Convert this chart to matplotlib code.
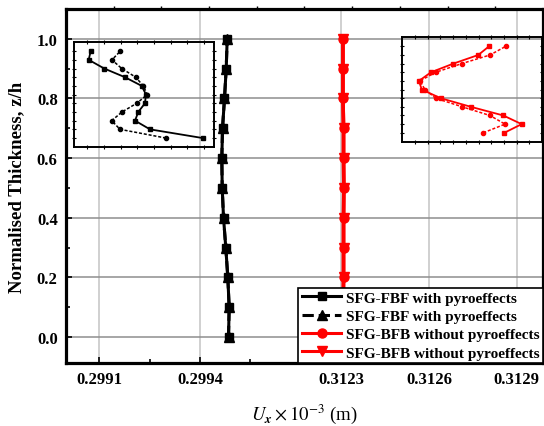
import numpy as np
import matplotlib
matplotlib.use("Agg")
import matplotlib.pyplot as plt
from matplotlib.ticker import FixedLocator, FixedFormatter

plt.rcParams["font.family"] = ["Liberation Serif", "DejaVu Serif"]
plt.rcParams["mathtext.fontset"] = "stix"

# ---- data -------------------------------------------------------------
z = [0.0, 0.1, 0.2, 0.3, 0.4, 0.5, 0.6, 0.7, 0.8, 0.9, 1.0]

ux_fbf_pyro_a = [0.2994856, 0.2994876, 0.2994835, 0.2994775, 0.2994707, 0.2994668,
                 0.2994656, 0.2994677, 0.2994736, 0.2994787, 0.2994817]
ux_fbf_pyro_b = [0.2994856, 0.2994876, 0.2994835, 0.2994775, 0.2994707, 0.2994668,
                 0.2994656, 0.2994677, 0.2994736, 0.2994787, 0.2994817]
ux_bfb_nopyro_a = [0.312306, 0.312307, 0.312308, 0.312308, 0.312308, 0.312309,
                   0.312308, 0.312308, 0.312306, 0.312306, 0.312306]
ux_bfb_nopyro_b = [0.312306, 0.312307, 0.312308, 0.312308, 0.312308, 0.312309,
                   0.312308, 0.312308, 0.312306, 0.312306, 0.312306]

# zoomed profiles (relative units) shown in the two insets
inset_fbf_solid = [91.9, 54.3, 43.6, 45.9, 50.7, 51.4, 48.4, 36.4, 21.6, 10.5, 11.9]
inset_fbf_dash = [65.7, 32.9, 26.9, 34.3, 44.8, 52.4, 49.5, 44.1, 34.1, 27.1, 33.1]
inset_bfb_solid = [73.0, 85.4, 72.3, 49.1, 27.4, 13.8, 11.8, 20.4, 36.4, 54.3, 62.0]
inset_bfb_dash = [57.9, 73.5, 62.7, 42.9, 23.8, 16.1, 12.5, 23.8, 42.4, 62.7, 74.0]

labels = ["SFG-FBF with pyroeffects", "SFG-FBF with pyroeffects",
          "SFG-BFB without pyroeffects", "SFG-BFB without pyroeffects"]

x_major = [0.2991, 0.2994, 0.3123, 0.3126, 0.3129]
x_major_labels = ["0.2991", "0.2994", "0.3123", "0.3126", "0.3129"]
x_minor = [0.29925, 0.29955, 0.31245, 0.31275]
y_major = [0.0, 0.2, 0.4, 0.6, 0.8, 1.0]
y_major_labels = ["0.0", "0.2", "0.4", "0.6", "0.8", "1.0"]
y_minor = [0.1, 0.3, 0.5, 0.7, 0.9]

# ---- broken x scale (two linear pieces joined at the break) ------------
X_LO, X_BRK_LO, X_BRK_HI, X_HI = 0.2990, 0.2997, 0.31216, 0.31299
GAIN_L, GAIN_R = 335.7e3, 293.3e3
P_BRK = (X_BRK_LO - X_LO) * GAIN_L
EPS = 1e-3


def fwd(x):
    x = np.asarray(x, dtype=float)
    left = (x - X_LO) * GAIN_L
    mid = P_BRK + (x - X_BRK_LO) / (X_BRK_HI - X_BRK_LO) * EPS
    right = P_BRK + EPS + (x - X_BRK_HI) * GAIN_R
    return np.where(x <= X_BRK_LO, left, np.where(x >= X_BRK_HI, right, mid))


def inv(p):
    p = np.asarray(p, dtype=float)
    left = X_LO + p / GAIN_L
    mid = X_BRK_LO + (p - P_BRK) / EPS * (X_BRK_HI - X_BRK_LO)
    right = X_BRK_HI + (p - P_BRK - EPS) / GAIN_R
    return np.where(p <= P_BRK, left, np.where(p >= P_BRK + EPS, right, mid))


fig = plt.figure(figsize=(5.44, 4.27), dpi=100)
ax = fig.add_axes([0.1213, 0.1475, 0.8768, 0.829])
ax.set_xscale("function", functions=(fwd, inv))
ax.set_xlim(X_LO, X_HI)
ax.set_ylim(-0.087, 1.10)

ax.xaxis.set_major_locator(FixedLocator(x_major))
ax.xaxis.set_major_formatter(FixedFormatter(x_major_labels))
ax.xaxis.set_minor_locator(FixedLocator(x_minor))
ax.yaxis.set_major_locator(FixedLocator(y_major))
ax.yaxis.set_major_formatter(FixedFormatter(y_major_labels))
ax.yaxis.set_minor_locator(FixedLocator(y_minor))

ax.xaxis.grid(True, which="major", color="#c4c4c4", lw=1.1, zorder=0)
ax.yaxis.grid(True, which="major", color="#8e8e8e", lw=1.1, zorder=0)
ax.set_axisbelow(True)

for s in ax.spines.values():
    s.set_linewidth(2.3)
ax.tick_params(which="both", direction="in", width=1.2, labelsize=12, pad=6)
ax.tick_params(which="major", length=4)
ax.tick_params(which="minor", length=3)
for t in ax.get_xticklabels() + ax.get_yticklabels():
    t.set_fontweight("bold")

# main curves
ax.plot(ux_fbf_pyro_b, z, ls="--", color="black", lw=2.2, marker="^", ms=6.5, zorder=3)
ax.plot(ux_fbf_pyro_a, z, ls="-", color="black", lw=2.2, marker="s", ms=6, zorder=4)
ax.plot(ux_bfb_nopyro_a, z, ls="-", color="#ff0000", lw=2.6, marker="o", ms=6.5, zorder=3)
ax.plot(ux_bfb_nopyro_b, z, ls="-", color="#ff0000", lw=2.6, marker="v", ms=7, zorder=4)

# small ticks along the top edge
ax_top = ax.twiny()
ax_top.set_xlim(0, 1)
ax_top.set_xticks(np.arange(0.1, 0.95, 0.1))
ax_top.tick_params(axis="x", direction="out", length=2.5, width=1.0, labeltop=False)
for s in ax_top.spines.values():
    s.set_visible(False)
ax_top.patch.set_visible(False)

# axis labels
ax.set_xlabel(r"$U_{\mathbfit{x}}\times 10^{-3}$ (m)", fontsize=13.5, labelpad=10)
ax.set_ylabel("Normalised Thickness, z/h", fontsize=13.5, fontweight="bold", labelpad=8)

# legend
handles = [
    plt.Line2D([], [], color="black", lw=2.2, marker="s", ms=6),
    plt.Line2D([], [], color="black", lw=2.2, ls="--", marker="^", ms=7),
    plt.Line2D([], [], color="#ff0000", lw=2.2, marker="o", ms=6.5),
    plt.Line2D([], [], color="#ff0000", lw=2.2, marker="v", ms=7),
]
leg = ax.legend(handles, labels, loc="lower right", bbox_to_anchor=(1.0, 0.0),
                borderaxespad=0.0, fancybox=False, framealpha=1.0, edgecolor="black",
                handlelength=2.6, handletextpad=0.3, labelspacing=0.3, borderpad=0.22,
                prop={"family": "Liberation Serif", "weight": "bold", "size": 11})
leg.get_frame().set_linewidth(1.2)
leg.set_zorder(10)


def style_inset(iax, xt):
    iax.set_facecolor("none")
    iax.set_ylim(-0.104, 1.104)
    iax.set_xlim(0, 100)
    iax.set_xticks(xt)
    iax.set_yticks(z)
    iax.tick_params(which="both", direction="inout", length=3, width=0.8,
                    labelbottom=False, labelleft=False, top=True, right=True)
    for s in iax.spines.values():
        s.set_linewidth(1.4)


ins_l = ax.inset_axes([0.0168, 0.610, 0.2935, 0.2966])
style_inset(ins_l, np.arange(9.5, 100, 11.9))
ins_l.plot(inset_fbf_dash, z, ls=(0, (2, 1.2)), color="black", lw=1.1, marker="o", ms=3)
ins_l.plot(inset_fbf_solid, z, ls="-", color="black", lw=1.3, marker="s", ms=3)

ins_r = ax.inset_axes([0.7055, 0.625, 0.2925, 0.295])
style_inset(ins_r, np.arange(9.0, 100, 9.1))
ins_r.plot(inset_bfb_dash, z, ls=(0, (2, 1.2)), color="#ff0000", lw=1.1, marker="o", ms=3)
ins_r.plot(inset_bfb_solid, z, ls="-", color="#ff0000", lw=1.3, marker="s", ms=3)

fig.savefig("out.png", dpi=100)
